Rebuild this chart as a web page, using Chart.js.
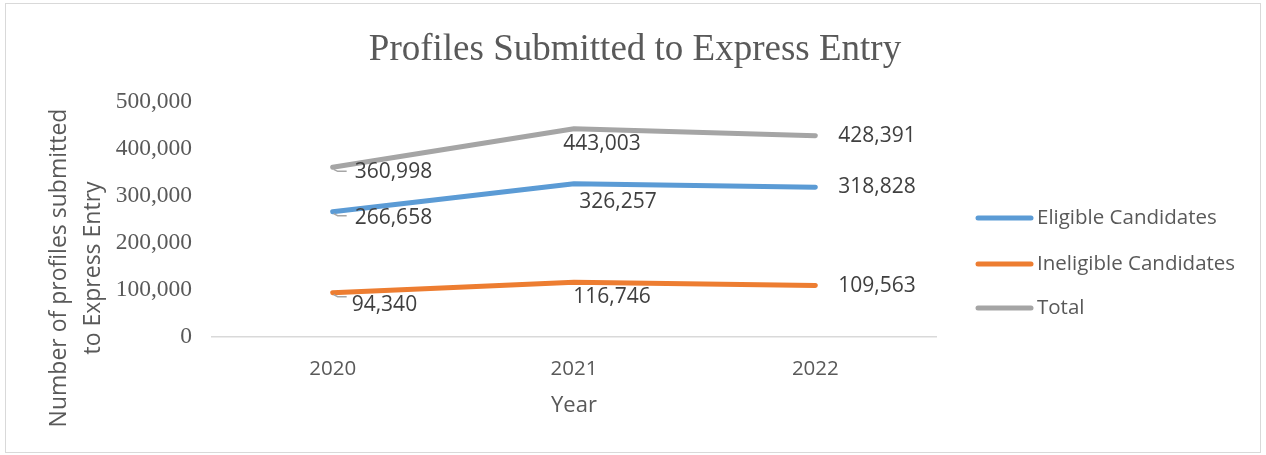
<!DOCTYPE html>
<html>
<head>
<meta charset="utf-8">
<script src="https://cdn.jsdelivr.net/npm/chart.js@4.4.1/dist/chart.umd.min.js"></script>
<style>
  html, body { margin: 0; padding: 0; background: #fff; }
  #frame { position: absolute; left: 5px; top: 3px; width: 1254px; height: 448px; border: 1px solid #d9d9d9; }
  #chart { position: absolute; left: 0; top: 0; }
</style>
</head>
<body>
<div id="frame"></div>
<canvas id="chart" width="1266" height="455"></canvas>
<script>
const years = ['2020', '2021', '2022'];
const eligible = [266658, 326257, 318828];
const ineligible = [94340, 116746, 109563];
const total = [360998, 443003, 428391];
const yTicks = [0, 100000, 200000, 300000, 400000, 500000];

const chartTitle = 'Profiles Submitted to Express Entry';
const yAxisTitle = ['Number of profiles submitted', 'to Express Entry'];

const SANS = '"Open Sans", "Noto Sans", sans-serif';
const SERIF = '"Liberation Serif", "Times New Roman", serif';
const TEXT = '#595959';

const fmt = (v) => v.toLocaleString('en-US');

// label offsets relative to the point: [dx, dy, textAlign]
const labelPlacement = [
  [[22, 6, 'left'], [44, 18, 'center'], [23, 0, 'left']],
  [[19, 12, 'left'], [38, 15, 'center'], [23, 1, 'left']],
  [[22, 5, 'left'], [28, 15, 'center'], [23, 0, 'left']],
];

const pointLabels = {
  id: 'pointLabels',
  afterDatasetsDraw(chart) {
    const { ctx } = chart;
    ctx.save();
    ctx.font = `21px ${SANS}`;
    ctx.fillStyle = '#404040';
    ctx.textBaseline = 'middle';
    chart.data.datasets.forEach((ds, di) => {
      const meta = chart.getDatasetMeta(di);
      meta.data.forEach((pt, i) => {
        const [dx, dy, align] = labelPlacement[di][i];
        if (i === 0) {
          ctx.strokeStyle = '#a6a6a6';
          ctx.lineWidth = 1.5;
          ctx.beginPath();
          ctx.moveTo(pt.x + 1, pt.y + 2);
          ctx.lineTo(pt.x + 5, pt.y + 4);
          ctx.lineTo(pt.x + 14, pt.y + 4);
          ctx.stroke();
        }
        ctx.textAlign = align;
        ctx.fillText(fmt(ds.data[i]), pt.x + dx, pt.y + dy);
      });
    });
    ctx.restore();
  },
};

const sideLegend = {
  id: 'sideLegend',
  afterDraw(chart) {
    const { ctx } = chart;
    const rows = [218, 264, 308];
    ctx.save();
    ctx.font = `20.5px ${SANS}`;
    ctx.textBaseline = 'middle';
    ctx.textAlign = 'left';
    chart.data.datasets.forEach((ds, i) => {
      const y = rows[i];
      ctx.strokeStyle = ds.borderColor;
      ctx.lineWidth = 5;
      ctx.lineCap = 'round';
      ctx.beginPath();
      ctx.moveTo(978, y);
      ctx.lineTo(1031, y);
      ctx.stroke();
      ctx.fillStyle = TEXT;
      ctx.fillText(ds.label, 1037, y);
    });
    ctx.restore();
  },
};

const titles = {
  id: 'titles',
  afterDraw(chart) {
    const { ctx } = chart;
    ctx.save();
    ctx.fillStyle = TEXT;
    ctx.font = `37px ${SERIF}`;
    ctx.textAlign = 'center';
    ctx.textBaseline = 'alphabetic';
    ctx.fillText(chartTitle, 635, 60);

    ctx.translate(0, 268);
    ctx.rotate(-Math.PI / 2);
    ctx.font = `23px ${SANS}`;
    ctx.textBaseline = 'middle';
    ctx.fillText(yAxisTitle[0], 0, 59);
    ctx.fillText(yAxisTitle[1], 0, 93);
    ctx.restore();
  },
};

const line = (label, data, color) => ({
  label,
  data,
  borderColor: color,
  backgroundColor: color,
  borderWidth: 5,
  borderCapStyle: 'round',
  borderJoinStyle: 'round',
  pointRadius: 0,
  tension: 0,
});

new Chart(document.getElementById('chart'), {
  type: 'line',
  data: {
    labels: years,
    datasets: [
      line('Eligible Candidates', eligible, '#5b9bd5'),
      line('Ineligible Candidates', ineligible, '#ed7d31'),
      line('Total', total, '#a5a5a5'),
    ],
  },
  options: {
    responsive: false,
    animation: false,
    devicePixelRatio: 1,
    layout: { padding: { left: 0, right: 330, top: 102, bottom: 0 } },
    plugins: {
      legend: { display: false },
      tooltip: { enabled: false },
      title: { display: false },
    },
    scales: {
      x: {
        offset: true,
        grid: { display: false, drawTicks: false },
        border: { display: true, color: '#d9d9d9', width: 1.5 },
        ticks: { color: TEXT, font: { family: SANS, size: 20.5 }, padding: 20 },
        title: {
          display: true,
          text: 'Year',
          color: TEXT,
          font: { family: SANS, size: 22 },
          padding: { top: 0, bottom: 36 },
        },
        afterFit: (scale) => { scale.height = 118; },
      },
      y: {
        min: 0,
        max: 500000,
        afterBuildTicks: (scale) => { scale.ticks = yTicks.map((value) => ({ value })); },
        grid: { display: false, drawTicks: false },
        border: { display: false },
        ticks: {
          color: TEXT,
          font: { family: SERIF, size: 23.5 },
          padding: 20,
          callback: (v) => fmt(v),
        },
        afterFit: (scale) => { scale.width = 212; },
      },
    },
  },
  plugins: [pointLabels, titles, sideLegend],
});
</script>
</body>
</html>
